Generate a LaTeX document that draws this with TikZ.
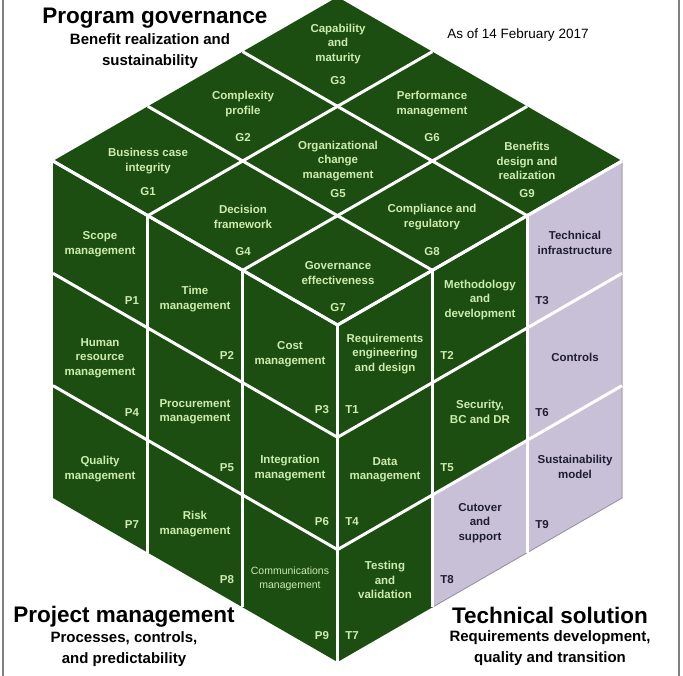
\documentclass[tikz,border=0pt]{standalone}
\usepackage{fontspec}
\setmainfont{Liberation Sans}
\usetikzlibrary{calc}
\definecolor{cubegreen}{RGB}{27,78,16}
\definecolor{celltext}{RGB}{205,235,175}
\definecolor{lavender}{RGB}{200,192,214}
\definecolor{lavedge}{RGB}{150,144,164}
\definecolor{darktext}{RGB}{30,30,50}

\begin{document}
\begin{tikzpicture}[x=1pt, y=-1pt,
    cell/.style={text=celltext, align=center, font=\fontsize{11.5}{14.5}\selectfont\bfseries},
    lcell/.style={cell, text=darktext},
    title/.style={font=\fontsize{22.5}{26}\selectfont\bfseries},
    subtitle/.style={align=center, font=\fontsize{15}{21}\selectfont\bfseries},
    gridline/.style={white, line width=3pt}]
      \clip (0,0) rectangle (683,676);
      % Define corners
      \coordinate (top)   at (337.5,-3);
      \coordinate (left)  at (53,161);
      \coordinate (front) at (337.5,325);
      \coordinate (right) at (622,161);
      \coordinate (lbot)  at (53,498);
      \coordinate (bot)   at (337.5,662);
      \coordinate (rbot)  at (622,498);
      % Faces
      \fill[cubegreen] (left) -- (top) -- (right) -- (rbot) -- (bot) -- (lbot) -- cycle;
      \filldraw[fill=lavender, draw=lavedge, line width=0.8pt]
        (527.17,215.67) -- (622,161) -- (622,273.33) -- (527.17,328) -- cycle
        (527.17,328) -- (622,273.33) -- (622,385.67) -- (527.17,440.33) -- cycle
        (527.17,440.33) -- (622,385.67) -- (622,498) -- (527.17,552.67) -- cycle
        (432.33,495) -- (527.17,440.33) -- (527.17,552.67) -- (432.33,607.33) -- cycle;
      % Grid
      \foreach \k in {1,2,3} {
        \draw[gridline] ($(left)!\k/3!(front)$) -- ($(top)!\k/3!(right)$);
        \draw[gridline] ($(left)!\k/3!(front)$) -- ($(lbot)!\k/3!(bot)$);
      }
      \foreach \k in {0,1,2} {
        \draw[gridline] ($(left)!\k/3!(top)$) -- ($(front)!\k/3!(right)$);
        \draw[gridline] ($(left)!\k/3!(lbot)$) -- ($(front)!\k/3!(bot)$);
        \draw[gridline] ($(front)!\k/3!(bot)$) -- ($(right)!\k/3!(rbot)$);
      }
      \foreach \k in {1,2} {
        \draw[gridline] ($(front)!\k/3!(right)$) -- ($(bot)!\k/3!(rbot)$);
      }
      % Frame
      \draw[gray, line width=1.5pt] (3,0) -- (3,676) (679,0) -- (679,676);
      % Titles
      \node[title] (govtitle) at (155,18) {Program governance};
      \node[subtitle] (govsub) at (150,51) {Benefit realization and\\sustainability};
      \node[font=\fontsize{13.5}{16}\selectfont] (asof) at (518,35) {As of 14 February 2017};
      \node[title] (pmtitle) at (124,617) {Project management};
      \node[subtitle] (pmsub) at (124,649) {Processes, controls,\\and predictability};
      \node[title] (tstitle) at (550,615) {Technical solution};
      \node[subtitle] (tssub) at (550,648) {Requirements development,\\quality and transition};
      % Governance cells
      \node[cell] (g1) at (148,161) {Business case\\integrity};
      \node[cell] (g1id) at (148,192) {G1};
      \node[cell] (g2) at (243,104) {Complexity\\profile};
      \node[cell] (g2id) at (243,138) {G2};
      \node[cell] (g3) at (338,44) {Capability\\and\\maturity};
      \node[cell] (g3id) at (338,81) {G3};
      \node[cell] (g4) at (243,217) {Decision\\framework};
      \node[cell] (g4id) at (243,252) {G4};
      \node[cell] (g5) at (338,161) {Organizational\\change\\management};
      \node[cell] (g5id) at (338,194) {G5};
      \node[cell] (g6) at (432,104) {Performance\\management};
      \node[cell] (g6id) at (432,138) {G6};
      \node[cell] (g7) at (338,273) {Governance\\effectiveness};
      \node[cell] (g7id) at (338,308) {G7};
      \node[cell] (g8) at (432,217) {Compliance and\\regulatory};
      \node[cell] (g8id) at (432,252) {G8};
      \node[cell] (g9) at (527,161) {Benefits\\design and\\realization};
      \node[cell] (g9id) at (527,194) {G9};
      % Project cells
      \node[cell] (p1) at (100,244) {Scope\\management};
      \node[cell] (p1id) at (132,301) {P1};
      \node[cell] (p2) at (195,299) {Time\\management};
      \node[cell] (p2id) at (227,355) {P2};
      \node[cell] (p3) at (290,354) {Cost\\management};
      \node[cell] (p3id) at (322,410) {P3};
      \node[cell] (p4) at (100,358) {Human\\resource\\management};
      \node[cell] (p4id) at (132,413) {P4};
      \node[cell] (p5) at (195,412) {Procurement\\management};
      \node[cell] (p5id) at (227,468) {P5};
      \node[cell] (p6) at (290,468) {Integration\\management};
      \node[cell] (p6id) at (322,522) {P6};
      \node[cell] (p7) at (100,469) {Quality\\management};
      \node[cell] (p7id) at (132,525) {P7};
      \node[cell] (p8) at (195,524) {Risk\\management};
      \node[cell] (p8id) at (227,580) {P8};
      \node[cell, font=\fontsize{10.5}{13.5}\selectfont] (p9) at (290,579) {Communications\\management};
      \node[cell] (p9id) at (322,636) {P9};
      % Technical cells
      \node[cell] (t1) at (385,354) {Requirements\\engineering\\and design};
      \node[cell] (t1id) at (352,410) {T1};
      \node[cell] (t2) at (480,300) {Methodology\\and\\development};
      \node[cell] (t2id) at (447,355) {T2};
      \node[lcell] (t3) at (575,243) {Technical\\infrastructure};
      \node[lcell] (t3id) at (542,301) {T3};
      \node[cell] (t4) at (385,470) {Data\\management};
      \node[cell] (t4id) at (352,522) {T4};
      \node[cell] (t5) at (480,412) {Security,\\BC and DR};
      \node[cell] (t5id) at (447,468) {T5};
      \node[lcell] (t6) at (575,357) {Controls};
      \node[lcell] (t6id) at (542,413) {T6};
      \node[cell] (t7) at (385,580) {Testing\\and\\validation};
      \node[cell] (t7id) at (352,636) {T7};
      \node[lcell] (t8) at (480,523) {Cutover\\and\\support};
      \node[lcell] (t8id) at (447,580) {T8};
      \node[lcell] (t9) at (575,467) {Sustainability\\model};
      \node[lcell] (t9id) at (542,525) {T9};
\end{tikzpicture}
\end{document}
